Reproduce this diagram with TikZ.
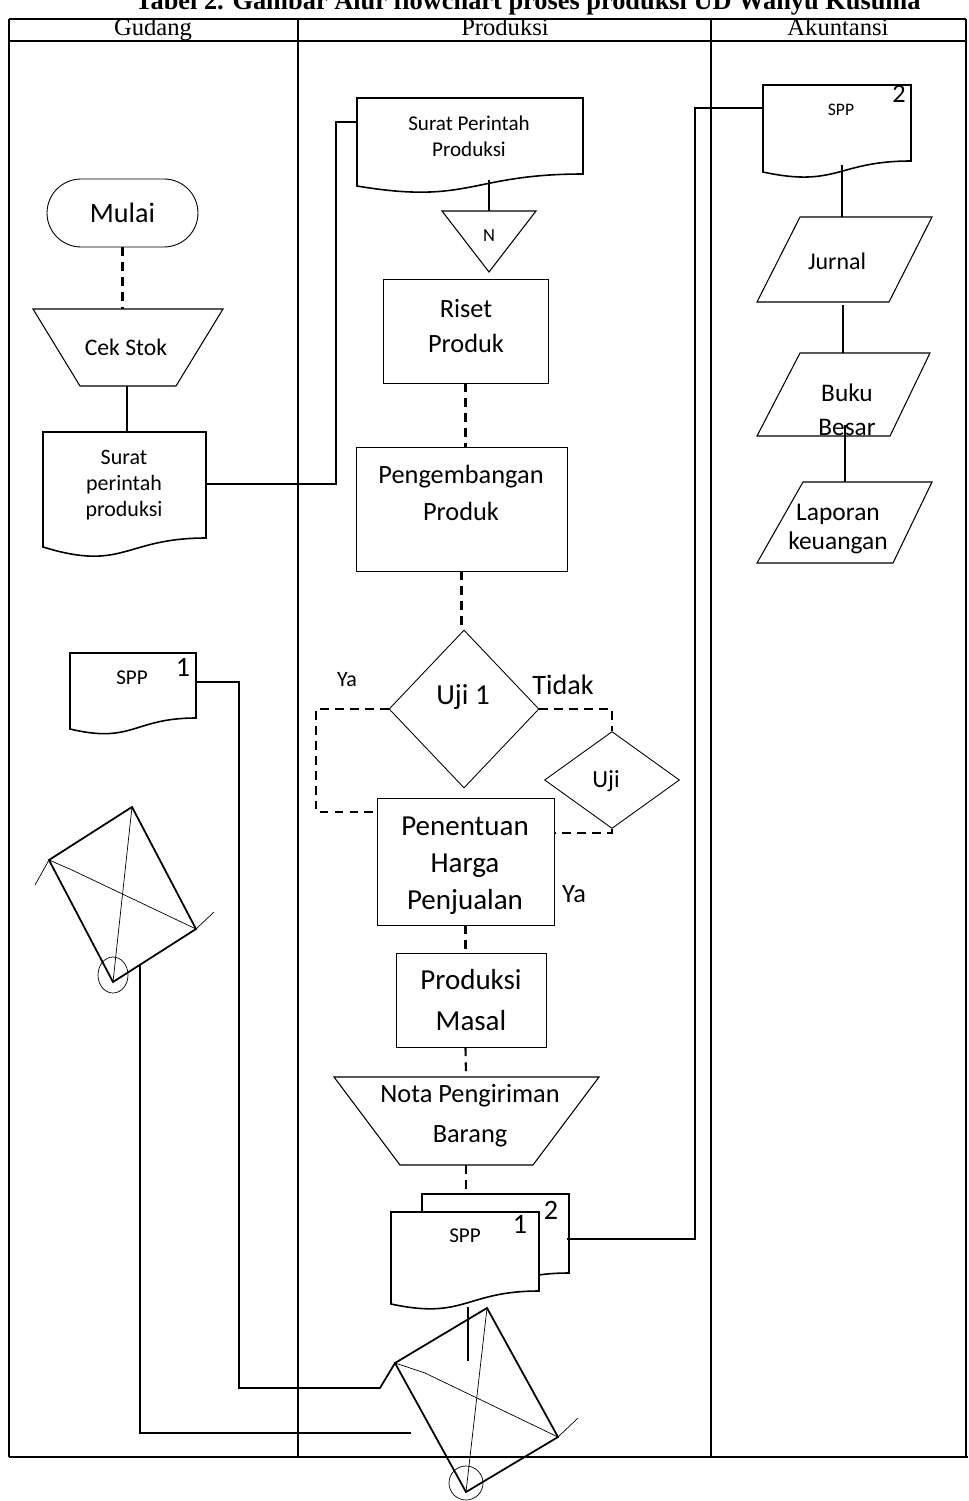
\documentclass[tikz,border=0pt]{standalone}
\usepackage{fontspec}
\setmainfont{Carlito}
\newfontfamily\tnr{Liberation Serif}
\usetikzlibrary{shapes.geometric}

\begin{document}
\begin{tikzpicture}[x=0.02cm,y=-0.02cm,
                    lane/.style={line width=0.8pt},
                    thin box/.style={draw,line width=0.5pt,inner sep=0pt},
                    docline/.style={line width=0.9pt},
                    flow/.style={line width=1pt},
                    dflow/.style={line width=1.2pt,dash pattern=on 5pt off 3.5pt},
                    kolasi/.style={line width=1pt},
                    txt/.style={align=center,inner sep=0pt}]

\useasboundingbox (0,0) rectangle (968,1501);

% judul, terpotong di atas
\node[txt,font=\tnr\bfseries\fontsize{15}{17}\selectfont,anchor=base] (judul) at (528,10) {Tabel 2. Gambar Alur flowchart proses produksi UD Wahyu Kusuma};

% tabel
\draw[lane] (9,19) -- (966,19);
\draw[lane] (9,41) -- (966,41);
\draw[lane] (9,19) -- (9,1457);
\draw[lane] (298,19) -- (298,1457);
\draw[lane] (711,19) -- (711,1457);
\draw[lane] (966,19) -- (966,1457);
\draw[line width=1.3pt] (9,1457) -- (968,1457);
\node[txt,font=\tnr\fontsize{14}{16}\selectfont,anchor=base] (hgudang) at (153,35.5) {Gudang};
\node[txt,font=\tnr\fontsize{14}{16}\selectfont,anchor=base] (hproduksi) at (505,35.5) {Produksi};
\node[txt,font=\tnr\fontsize{14}{16}\selectfont,anchor=base] (hakuntansi) at (838,35.5) {Akuntansi};

%%%% Gudang
\node[thin box,rounded corners=0.68cm,minimum width=3.02cm,minimum height=1.36cm,font=\fontsize{16}{19}\selectfont] (mulai) at (122.5,213) {Mulai};

\draw[line width=0.6pt] (33,309) -- (223,309) -- (176,386) -- (80,386) -- cycle;
\node[txt,font=\fontsize{13.5}{16}\selectfont] (cekstok) at (126,347) {Cek Stok};
\coordinate (cek-n) at (122.5,309);
\coordinate (cek-s) at (127,386);
\draw[dflow] (mulai.south) -- (cek-n);

\draw[docline] (43,432) -- (206,432) -- (206,538) .. controls (124,538) and (124,572) .. (43,547) -- cycle;
\node[txt,font=\fontsize{12.5}{14.7}\selectfont] (spgudang) at (124,485) {Surat\\perintah\\produksi};
\coordinate (spg-n) at (127,432);
\coordinate (spg-e) at (206,484);
\draw[flow] (cek-s) -- (spg-n);

\draw[docline] (70,653) -- (196,653) -- (196,718) .. controls (133,718) and (133,744) .. (70,729) -- cycle;
\node[txt,font=\fontsize{12}{14}\selectfont] (spp1) at (132,678) {SPP};
\node[txt,font=\fontsize{16}{18}\selectfont] (spp1no) at (183,667) {1};
\coordinate (spp1-e) at (196,682);

% kolasi kiri
\draw[kolasi] (132,807) -- (196,929) -- (113,982) -- (49,860) -- cycle;
\draw[line width=0.4pt] (132,807) -- (113,982);
\draw[line width=0.4pt] (49,860) -- (72,870) -- (196,929);
\draw[line width=0.4pt] (49,860) -- (35,885);
\draw[line width=0.4pt] (196,929) -- (214,912);
\draw[line width=0.4pt] (113,975) ellipse [x radius=15, y radius=18];
\coordinate (kol1-s) at (140,964);

%%%% Produksi
\draw[docline] (357,98) -- (583,98) -- (583,174) .. controls (470,174) and (470,205) .. (357,186) -- cycle;
\node[txt,font=\fontsize{12}{14.7}\selectfont] (sppro) at (469,136) {Surat Perintah\\Produksi};
\coordinate (sppro-w) at (357,122);
\coordinate (sppro-s) at (489,180);
\draw[flow] (spg-e) -| (336,122) -- (sppro-w);

\draw[line width=0.6pt] (442,211) -- (536,211) -- (489,272) -- cycle;
\node[font=\fontsize{10.5}{12}\selectfont] (arsip) at (489,236) {N};
\coordinate (arsip-n) at (489,211);
\draw[flow] (sppro-s) -- (arsip-n);

\node[thin box,minimum width=3.3cm,minimum height=2.08cm] (riset) at (465.5,331) {};
\node[txt,font=\fontsize{15}{20.4}\selectfont] (risettxt) at (466,326) {Riset\\Produk};

\node[thin box,minimum width=4.22cm,minimum height=2.48cm] (pengembangan) at (461.5,509) {};
\node[txt,font=\fontsize{15}{21.5}\selectfont] (pengtxt) at (461,493) {Pengembangan\\Produk};
\draw[dflow] (riset.south) -- (riset.south |- pengembangan.north);

\node[thin box,diamond,minimum width=3cm,minimum height=3.16cm] (uji1) at (464,709) {};
\node[txt,font=\fontsize{16.5}{19}\selectfont] (uji1txt) at (463,697) {Uji 1};
\draw[dflow] (pengembangan.south) -- (pengembangan.south |- uji1.north);

\node[txt,font=\fontsize{12.5}{15}\selectfont] (ya1) at (347,680) {Ya};
\node[txt,font=\fontsize{16}{19}\selectfont] (tidak) at (563,685) {Tidak};

\node[thin box,diamond,minimum width=2.7cm,minimum height=1.94cm] (uji2) at (612,780) {};
\node[txt,font=\fontsize{14}{17}\selectfont] (uji2txt) at (606,781) {Uji};

\node[thin box,minimum width=3.54cm,minimum height=2.54cm] (penentuan) at (465.5,861.5) {};
\node[txt,font=\fontsize{16.5}{21}\selectfont] (pentxt) at (465,866) {Penentuan\\Harga\\Penjualan};
\coordinate (pen-w) at (377,812);
\coordinate (pen-e) at (555,833);
\draw[dflow] (uji1.west) -| (316,812) -- (pen-w);
\draw[dflow] (uji1.east) -| (uji2.north);
\draw[dflow] (uji2.south) |- (pen-e);
\node[txt,font=\fontsize{15}{18}\selectfont] (ya2) at (574,894) {Ya};

\node[thin box,minimum width=3cm,minimum height=1.88cm,align=center,font=\fontsize{16.5}{23.8}\selectfont] (masal) at (471,1000) {Produksi\\Masal};
\draw[dflow] (penentuan.south) -- (penentuan.south |- masal.north);

\draw[line width=0.6pt] (334,1077) -- (599,1077) -- (533,1165) -- (400,1165) -- cycle;
\node[txt,font=\fontsize{15}{22.7}\selectfont] (nota) at (470,1116) {Nota Pengiriman\\Barang};
\coordinate (nota-n) at (466,1077);
\coordinate (nota-s) at (466,1165);
\draw[dflow] (penentuan.south |- masal.south) -- (nota-n);

% SPP rangkap 2
\draw[docline,fill=white] (422,1194) -- (569,1194) -- (569,1273) .. controls (496,1273) and (496,1302) .. (422,1286) -- cycle;
\draw[docline,fill=white] (391,1212) -- (539,1212) -- (539,1291) .. controls (465,1291) and (465,1320) .. (391,1304) -- cycle;
\node[txt,font=\fontsize{12}{14}\selectfont] (spp) at (465,1236) {SPP};
\node[txt,font=\fontsize{16}{18}\selectfont] (sppno1) at (520,1224) {1};
\node[txt,font=\fontsize{16}{18}\selectfont] (sppno2) at (551,1210) {2};
\coordinate (spp-n) at (466,1194);
\coordinate (spp-s) at (468,1307);
\coordinate (spp-e) at (567,1239);
\draw[dflow] (nota-s) -- (spp-n);

% kolasi bawah
\draw[kolasi] (487,1308) -- (558,1437) -- (466,1492) -- (395,1363) -- cycle;
\draw[line width=0.4pt] (487,1308) -- (466,1492);
\draw[line width=0.4pt] (395,1363) -- (425,1373) -- (558,1437);
\draw[line width=0.4pt] (558,1437) -- (578,1418);
\draw[line width=0.4pt] (466,1483) ellipse [x radius=17, y radius=17];
\coordinate (kol2-w) at (395,1363);
\coordinate (kol2-in) at (411,1433);
\draw[flow] (spp-s) -- (468,1361);

\draw[flow] (spp1-e) -| (239,1388) -- (380,1388) -- (kol2-w);
\draw[flow] (kol1-s) |- (kol2-in);

%%%% Akuntansi
\draw[docline] (763,85) -- (911,85) -- (911,161) .. controls (837,161) and (837,188) .. (763,172) -- cycle;
\node[txt,font=\fontsize{10}{12}\selectfont] (spp2) at (841,110) {SPP};
\node[txt,font=\fontsize{15}{18}\selectfont] (spp2no) at (899,94) {2};
\coordinate (spp2-w) at (763,108);
\coordinate (spp2-s) at (842,165);
\draw[flow] (spp-e) -| (695,108) -- (spp2-w);

\draw[line width=0.6pt] (800,217) -- (932,217) -- (889,302) -- (757,302) -- cycle;
\node[txt,font=\fontsize{13.6}{16}\selectfont] (jurnal) at (837,261) {Jurnal};
\coordinate (jurnal-n) at (842,217);
\coordinate (jurnal-s) at (843,305);

\draw[line width=0.6pt] (800,353) -- (930,353) -- (890,436) -- (757,436) -- cycle;
\node[txt,font=\fontsize{14.4}{19.3}\selectfont] (buku) at (847,410) {Buku\\Besar};
\coordinate (buku-n) at (843,353);
\coordinate (buku-s) at (845,425);

\draw[line width=0.6pt] (803,482) -- (932,482) -- (893,563) -- (757,563) -- cycle;
\node[txt,font=\fontsize{14.5}{17}\selectfont] (laporan) at (838,529) {Laporan\\keuangan};
\coordinate (laporan-n) at (845,482);

\draw[flow] (spp2-s) -- (jurnal-n);
\draw[flow] (jurnal-s) -- (buku-n);
\draw[flow] (buku-s) -- (laporan-n);

\end{tikzpicture}
\end{document}
